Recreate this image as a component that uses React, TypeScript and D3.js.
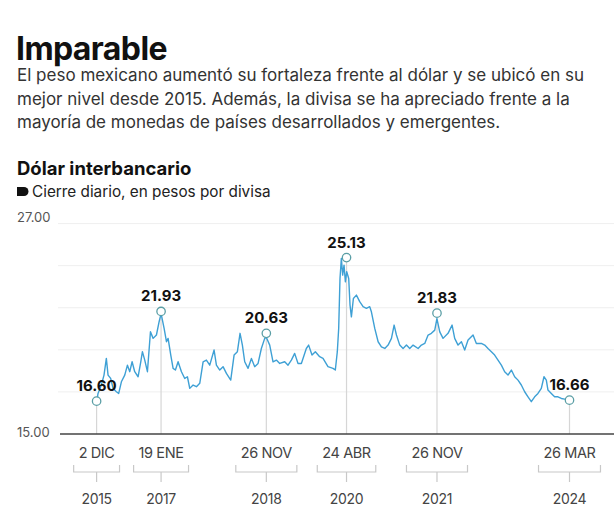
import React, { useEffect, useRef } from "react";
import * as d3 from "d3";

const W = 614;
const H = 529;

const TITLE = "Imparable";
const SUBTITLE_LINES = [
  "El peso mexicano aumentó su fortaleza frente al dólar y se ubicó en su",
  "mejor nivel desde 2015. Además, la divisa se ha apreciado frente a la",
  "mayoría de monedas de países desarrollados y emergentes.",
];
const CHART_TITLE = "Dólar interbancario";
const LEGEND_LABEL = "Cierre diario, en pesos por divisa";

// Series: decimal year and closing value (pesos per dollar)
const seriesYears = [
  2015.92, 2015.943, 2016.001, 2016.048, 2016.089, 2016.119, 2016.165, 2016.207, 2016.265, 2016.306,
  2016.353, 2016.412, 2016.459, 2016.5, 2016.541, 2016.587, 2016.646, 2016.693, 2016.722, 2016.763,
  2016.81, 2016.863, 2016.91, 2016.968, 2017.015, 2017.05, 2017.103, 2017.144, 2017.173, 2017.22,
  2017.261, 2017.302, 2017.349, 2017.408, 2017.466, 2017.513, 2017.554, 2017.613, 2017.672, 2017.73,
  2017.789, 2017.847, 2017.906, 2017.982, 2018.023, 2018.082, 2018.14, 2018.199, 2018.275, 2018.334,
  2018.392, 2018.439, 2018.48, 2018.521, 2018.58, 2018.639, 2018.697, 2018.756, 2018.814, 2018.873,
  2018.9, 2018.961, 2019.019, 2019.078, 2019.137, 2019.225, 2019.283, 2019.342, 2019.4, 2019.459,
  2019.518, 2019.605, 2019.646, 2019.705, 2019.764, 2019.84, 2019.899, 2019.986, 2020.074, 2020.115,
  2020.15, 2020.174, 2020.197, 2020.221, 2020.244, 2020.268, 2020.291, 2020.315, 2020.35, 2020.373,
  2020.397, 2020.432, 2020.485, 2020.543, 2020.602, 2020.66, 2020.719, 2020.748, 2020.807, 2020.866,
  2020.924, 2020.983, 2021.041, 2021.1, 2021.147, 2021.188, 2021.246, 2021.305, 2021.364, 2021.422,
  2021.481, 2021.569, 2021.627, 2021.686, 2021.745, 2021.803, 2021.862, 2021.9, 2021.95, 2022.008,
  2022.096, 2022.167, 2022.213, 2022.272, 2022.331, 2022.389, 2022.448, 2022.536, 2022.594, 2022.682,
  2022.741, 2022.799, 2022.858, 2022.916, 2022.975, 2023.034, 2023.092, 2023.151, 2023.21, 2023.268,
  2023.327, 2023.385, 2023.444, 2023.503, 2023.561, 2023.62, 2023.678, 2023.737, 2023.784, 2023.825,
  2023.854, 2023.913, 2023.971, 2024.03, 2024.089, 2024.147, 2024.23,
];
const seriesValues = [
  16.6, 17.06, 17.56, 18.15, 19.14, 18.15, 17.95, 17.36, 17.16, 17.06,
  17.75, 18.15, 18.74, 18.35, 18.94, 18.35, 18.05, 18.94, 19.54, 19.04,
  18.35, 20.72, 20.33, 20.53, 21.32, 21.8, 20.92, 20.13, 20.33, 19.34,
  18.55, 18.45, 18.94, 18.35, 17.95, 18.05, 17.36, 17.56, 17.46, 17.66,
  18.94, 19.04, 18.74, 19.64, 18.74, 18.45, 18.65, 18.25, 17.85, 19.34,
  19.54, 20.63, 19.93, 18.94, 18.55, 19.14, 18.65, 18.84, 19.73, 20.33,
  20.4, 19.93, 18.94, 19.04, 18.84, 18.94, 18.74, 19.04, 19.44, 18.84,
  18.84, 19.73, 19.93, 19.34, 19.54, 19.24, 19.14, 18.65, 18.55, 18.45,
  19.54, 20.92, 23.89, 25.08, 24.09, 24.68, 23.69, 24.29, 23.89, 22.31,
  21.61, 22.7, 22.9, 22.51, 22.21, 22.11, 22.21, 21.91, 20.92, 20.13,
  19.83, 19.73, 19.93, 20.33, 21.12, 20.53, 19.93, 19.73, 19.93, 19.73,
  19.93, 19.73, 19.93, 20.03, 20.53, 20.63, 20.82, 21.5, 20.72, 20.33,
  20.63, 21.12, 20.33, 19.93, 20.13, 19.64, 20.23, 20.53, 20.03, 20.03,
  19.93, 19.73, 19.54, 19.34, 19.04, 18.74, 18.35, 18.15, 18.45, 18.05,
  17.85, 17.56, 17.16, 16.86, 16.57, 16.86, 17.06, 17.36, 18.05, 17.85,
  17.26, 17.06, 16.86, 16.86, 16.76, 16.72, 16.66,
];

// Highlighted points
const markerDates = ["2015-12-02", "2017-01-19", "2018-11-26", "2020-04-24", "2021-11-26", "2024-03-26"];
const markerValues = [16.6, 21.93, 20.63, 25.13, 21.83, 16.66];
const markerDayLabels = ["2 DIC", "19 ENE", "26 NOV", "24 ABR", "26 NOV", "26 MAR"];
const markerYearLabels = ["2015", "2017", "2018", "2020", "2021", "2024"];

// Axis
const gridValues = [27.15, 24.65, 22.15, 19.65, 17.15];
const axisTopLabel = "27.00";
const axisBottomLabel = "15.00";

const FONT = "Inter, 'Noto Sans', sans-serif";

function yearToDate(y: number): Date {
  const yr = Math.floor(y);
  const start = Date.UTC(yr, 0, 1);
  const end = Date.UTC(yr + 1, 0, 1);
  return new Date(start + (y - yr) * (end - start));
}

export default function App() {
  const ref = useRef<SVGSVGElement>(null);

  useEffect(() => {
    const svg = d3.select(ref.current);
    svg.selectAll("*").remove();

    const parse = d3.utcParse("%Y-%m-%d");
    const x = d3
      .scaleUtc()
      .domain([parse(markerDates[0])!, parse(markerDates[markerDates.length - 1])!])
      .range([96.6, 569.5]);
    const y = d3.scaleLinear().domain([15, 27]).range([428.1, 226.1]);
    const axisY = 434;
    const plotLeft = 58;

    svg.append("rect").attr("width", W).attr("height", H).attr("fill", "#fff");

    // Header
    svg.append("text").attr("x", 16).attr("y", 60).attr("font-family", FONT).attr("font-weight", 700)
      .attr("font-size", 32).attr("fill", "#111").attr("letter-spacing", -0.6).text(TITLE);
    SUBTITLE_LINES.forEach((t, i) => {
      svg.append("text").attr("x", 17).attr("y", 81 + i * 23.5).attr("font-family", FONT)
        .attr("font-size", 17).attr("fill", "#333").text(t);
    });
    svg.append("text").attr("x", 17).attr("y", 175).attr("font-family", FONT).attr("font-weight", 700)
      .attr("font-size", 18.5).attr("fill", "#111").text(CHART_TITLE);
    svg.append("path").attr("d", "M17,187 H24 A4.5,4.5 0 0 1 24,196 H17 Z").attr("fill", "#111");
    svg.append("text").attr("x", 32).attr("y", 197).attr("font-family", FONT)
      .attr("font-size", 15.3).attr("fill", "#222").text(LEGEND_LABEL);

    // Grid
    svg.append("g").selectAll("line").data(gridValues).join("line")
      .attr("x1", plotLeft).attr("x2", W)
      .attr("y1", (d) => y(d)).attr("y2", (d) => y(d))
      .attr("stroke", "#efefef").attr("stroke-width", 1);
    svg.append("text").attr("x", 17).attr("y", y(gridValues[0]) - 2).attr("font-family", FONT)
      .attr("font-size", 13).attr("fill", "#555").text(axisTopLabel);

    // Vertical guides for markers
    svg.append("g").selectAll("line").data(markerDates).join("line")
      .attr("x1", (d) => x(parse(d)!)).attr("x2", (d) => x(parse(d)!))
      .attr("y1", (d, i) => y(markerValues[i]) + 4.5).attr("y2", axisY)
      .attr("stroke", "#d6d6d6").attr("stroke-width", 1.2);

    // Baseline
    svg.append("line").attr("x1", 60).attr("x2", W).attr("y1", axisY).attr("y2", axisY)
      .attr("stroke", "#444").attr("stroke-width", 1.4);
    svg.append("text").attr("x", 17).attr("y", 437).attr("font-family", FONT)
      .attr("font-size", 13).attr("fill", "#555").text(axisBottomLabel);

    // Line
    const pts = seriesYears.map((yr, i) => ({ d: yearToDate(yr), v: seriesValues[i] }));
    const line = d3.line<{ d: Date; v: number }>().x((p) => x(p.d)).y((p) => y(p.v));
    svg.append("path").datum(pts).attr("d", line).attr("fill", "none")
      .attr("stroke", "#3ea0d5").attr("stroke-width", 1.4).attr("stroke-linejoin", "round");

    // Markers and labels
    const mg = svg.append("g");
    markerDates.forEach((ds, i) => {
      const cx = x(parse(ds)!);
      const cy = y(markerValues[i]);
      mg.append("circle").attr("cx", cx).attr("cy", cy).attr("r", 4.2)
        .attr("fill", "#fff").attr("stroke", "#5a9ea5").attr("stroke-width", 1.3);
      mg.append("text").attr("x", cx).attr("y", cy - 10).attr("text-anchor", "middle")
        .attr("font-family", FONT).attr("font-weight", 700).attr("font-size", 15)
        .attr("fill", "#111").text(markerValues[i].toFixed(2));

      const dl = mg.append("text").attr("x", cx).attr("y", 458).attr("text-anchor", "middle")
        .attr("font-family", FONT).attr("font-size", 14.5).attr("fill", "#444")
        .attr("letter-spacing", -0.4).text(markerDayLabels[i]);
      const tw = (dl.node() as SVGTextElement).getComputedTextLength();
      const half = tw / 2 + 5;
      mg.append("path")
        .attr("d", `M${cx - half},465 V472 H${cx + half} V465`)
        .attr("fill", "none").attr("stroke", "#c8c8c8").attr("stroke-width", 1.2);
      mg.append("line").attr("x1", cx).attr("x2", cx).attr("y1", 472).attr("y2", 482)
        .attr("stroke", "#c8c8c8").attr("stroke-width", 1.2);
      mg.append("text").attr("x", cx).attr("y", 504).attr("text-anchor", "middle")
        .attr("font-family", FONT).attr("font-size", 14).attr("fill", "#444")
        .attr("letter-spacing", -0.3).text(markerYearLabels[i]);
    });
  }, []);

  return (
    <svg
      ref={ref}
      width={W}
      height={H}
      style={{ position: "absolute", left: 0, top: 0, display: "block" }}
    />
  );
}
